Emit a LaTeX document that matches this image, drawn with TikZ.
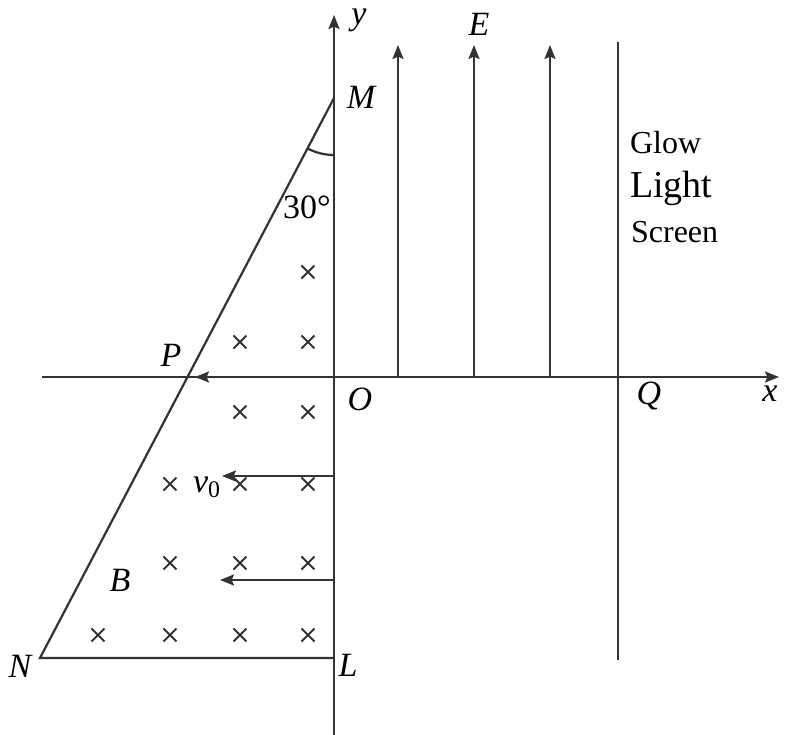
\documentclass[tikz,border=0pt]{standalone}
\usepackage{fontspec}
\setmainfont{Liberation Serif}
\usetikzlibrary{arrows.meta}

\begin{document}
\begin{tikzpicture}[x=0.5pt,y=0.5pt,line width=1.1pt,draw=black!80,
    >={Stealth[length=7pt,width=5.5pt,inset=1.2pt]},
    lbl/.style={font=\fontsize{17}{19}\selectfont\itshape,inner sep=0pt},
    xmark/.style={line width=1pt}]
  \useasboundingbox (-334,-358) rectangle (455,377);
  % axes and points
  \coordinate (O) at (0,0);
  \coordinate (ybot) at (0,-358);
  \coordinate (ytop) at (0,362);
  \coordinate (xleft) at (-292,0);
  \coordinate (xright) at (445,0);
  \coordinate (M) at (0,279);
  \coordinate (N) at (-294,-281);
  \coordinate (L) at (0,-281);
  \coordinate (Stop) at (284,335);
  \coordinate (Sbot) at (284,-283);
  \draw[->] (ybot) -- (ytop);
  \draw[->] (xleft) -- (xright);
  \draw (M) -- (N) -- (L);
  \draw (Stop) -- (Sbot);
  \draw (M) ++(-90:28.5pt) arc[start angle=-90,end angle=-117.7,radius=28.5pt];
  % electric field
  \foreach \xx in {64,140,216}
    \draw[->] (\xx,0) -- (\xx,332);
  % velocity arrows
  \coordinate (v1) at (-139,0);
  \coordinate (a2) at (0,-99);  \coordinate (v2) at (-112,-99);
  \coordinate (a3) at (0,-203); \coordinate (v3) at (-114,-203);
  \draw[->] (O) -- (v1);
  \draw[->] (a2) -- (v2);
  \draw[->] (a3) -- (v3);
  % magnetic field
  \foreach \p in {(-26,105),(-94,35),(-26,35),(-94,-35),(-26,-35),
      (-164,-107),(-94,-107),(-26,-107),(-164,-186),(-94,-186),(-26,-186),
      (-236,-258),(-164,-258),(-94,-258),(-26,-258)}
    \draw[xmark] \p ++(-6.5,-6.5) -- ++(13,13) ++(0,-13) -- ++(-13,13);
  % labels
  \node[lbl] (ly) at (25,357) {y};
  \node[lbl] (lE) at (145,353) {E};
  \node[lbl] (lM) at (27,280) {M};
  \node[lbl] (lP) at (-163,22) {P};
  \node[lbl] (lO) at (26,-22) {O};
  \node[lbl] (lQ) at (315,-19) {Q};
  \node[lbl] (lx) at (436,-17) {x};
  \node[lbl] (lN) at (-314,-289) {N};
  \node[lbl] (lL) at (14,-288) {L};
  \node[lbl] (lB) at (-214,-203) {B};
  \node[lbl] (lv) at (-127,-110) {v\textsubscript{\upshape 0}};
  \node[font=\fontsize{17}{19}\selectfont,inner sep=0pt] (ang) at (-27,170) {30°};
  \node[font=\fontsize{16}{18}\selectfont,anchor=base west,inner sep=0pt] (glow) at (295,224) {Glow};
  \node[font=\fontsize{19}{21}\selectfont,anchor=base west,inner sep=0pt] (light) at (295,180) {Light};
  \node[font=\fontsize{16}{18}\selectfont,anchor=base west,inner sep=0pt] (screen) at (296,135) {Screen};
\end{tikzpicture}
\end{document}
